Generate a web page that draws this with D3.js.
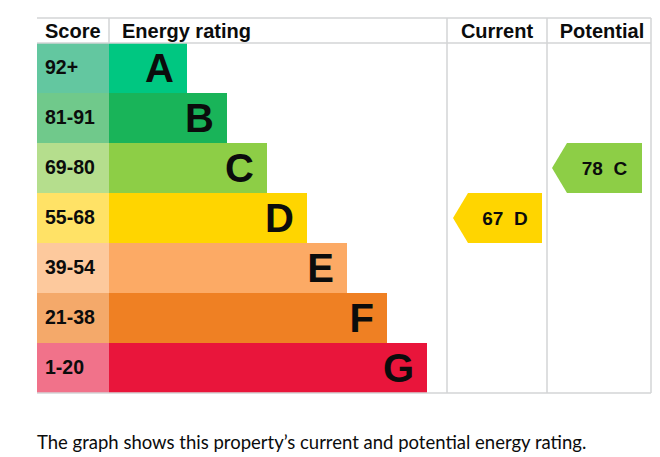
<!DOCTYPE html>
<meta charset="utf-8">
<style>
    body { margin: 0; background: #fff; }
    .grid { stroke: #d3d5d6; stroke-width: 1.5px; }
    .hdr { font-family: "Liberation Sans", Arial, sans-serif; font-weight: bold; font-size: 20px; fill: #0b0c0c; }
    .score { font-family: "Liberation Sans", Arial, sans-serif; font-weight: bold; font-size: 19.5px; fill: #0b0c0c; }
    .letter { font-family: "Liberation Sans", Arial, sans-serif; font-weight: bold; font-size: 40px; fill: #0b0c0c; }
    .arrowtxt { font-family: "Liberation Sans", Arial, sans-serif; font-weight: bold; font-size: 19px; fill: #0b0c0c; }
    .caption { font-family: Lato, "Noto Sans", sans-serif; font-size: 18.5px; fill: #0b0c0c; }
</style>
<body>
<script src="https://cdn.jsdelivr.net/npm/d3@7"></script>
<script>
    var ratings = ["A", "B", "C", "D", "E", "F", "G"]
    var scoreLabels = ["92+", "81-91", "69-80", "55-68", "39-54", "21-38", "1-20"]
    var scoreMins = [92, 81, 69, 55, 39, 21, 1]
    var barColors = ["#00c781", "#19b459", "#8dce46", "#ffd500", "#fcaa65", "#ef8023", "#e9153b"]
    var scoreColors = ["#63c7a0", "#70c98b", "#b5de8d", "#ffe266", "#fdc99d", "#f4a96a", "#f1728a"]
    var current = 67
    var potential = 78
    var caption = "The graph shows this property\u2019s current and potential energy rating."

    var width = 660, height = 457
    var svg = d3.select("body").append("svg")
        .attr("width", width)
        .attr("height", height)

    var left = 37, scoreRight = 109, curLeft = 447, potLeft = 547, right = 651
    var tableTop = 18, headBottom = 43, bottom = 393

    var y = d3.scaleBand().domain(ratings).range([headBottom, bottom])
    // bar end grows one step per band
    var barEnd = d3.scaleLinear().domain([0, ratings.length - 1]).range([187, 427])

    function band(score) {
        return ratings[scoreMins.findIndex(function(m) { return score >= m })]
    }

    // score cells
    svg.selectAll("rect.scorecell")
        .data(ratings)
        .enter().append("rect")
        .attr("x", left)
        .attr("y", function(d) { return y(d) })
        .attr("width", scoreRight - left)
        .attr("height", y.bandwidth())
        .attr("fill", function(d, i) { return scoreColors[i] })

    svg.selectAll("text.score")
        .data(scoreLabels)
        .enter().append("text")
        .attr("class", "score")
        .attr("x", left + 8)
        .attr("y", function(d, i) { return y(ratings[i]) + y.bandwidth() / 2 - 1 })
        .attr("dy", "0.36em")
        .text(function(d) { return d })

    // bars
    svg.selectAll("rect.bar")
        .data(ratings)
        .enter().append("rect")
        .attr("x", scoreRight)
        .attr("y", function(d) { return y(d) })
        .attr("width", function(d, i) { return barEnd(i) - scoreRight })
        .attr("height", y.bandwidth())
        .attr("fill", function(d, i) { return barColors[i] })

    svg.selectAll("text.letter")
        .data(ratings)
        .enter().append("text")
        .attr("class", "letter")
        .attr("x", function(d, i) { return barEnd(i) - 13 })
        .attr("y", function(d) { return y(d) + y.bandwidth() / 2 })
        .attr("dy", "0.36em")
        .attr("text-anchor", "end")
        .text(function(d) { return d })

    // grid
    var hlines = [tableTop, headBottom, bottom]
    svg.selectAll("line.h")
        .data(hlines)
        .enter().append("line")
        .attr("class", "grid")
        .attr("x1", left).attr("x2", right)
        .attr("y1", function(d) { return d }).attr("y2", function(d) { return d })
    svg.append("line").attr("class", "grid")
        .attr("x1", scoreRight).attr("x2", scoreRight).attr("y1", tableTop).attr("y2", headBottom)
    svg.selectAll("line.v")
        .data([curLeft, potLeft, right])
        .enter().append("line")
        .attr("class", "grid")
        .attr("x1", function(d) { return d }).attr("x2", function(d) { return d })
        .attr("y1", tableTop).attr("y2", bottom)

    // headers
    var heads = [
        {t: "Score", x: left + 8, a: "start"},
        {t: "Energy rating", x: scoreRight + 13, a: "start"},
        {t: "Current", x: (curLeft + potLeft) / 2, a: "middle"},
        {t: "Potential", x: (potLeft + right) / 2 + 3, a: "middle"}
    ]
    svg.selectAll("text.hdr")
        .data(heads)
        .enter().append("text")
        .attr("class", "hdr")
        .attr("x", function(d) { return d.x })
        .attr("y", (tableTop + headBottom) / 2)
        .attr("dy", "0.36em")
        .attr("text-anchor", function(d) { return d.a })
        .text(function(d) { return d.t })

    // arrows
    var arrows = [
        {v: current, x0: curLeft + 6, x1: curLeft + 95},
        {v: potential, x0: potLeft + 5, x1: potLeft + 95}
    ]
    arrows.forEach(function(a) {
        var r = band(a.v)
        var i = ratings.indexOf(r)
        var y0 = y(r), y1 = y(r) + y.bandwidth(), ym = (y0 + y1) / 2
        var g = svg.append("g")
        g.append("path")
            .attr("d", d3.line()([[a.x0, ym], [a.x0 + 15, y0], [a.x1, y0], [a.x1, y1], [a.x0 + 15, y1]]) + "Z")
            .attr("fill", barColors[i])
        g.append("text")
            .attr("class", "arrowtxt")
            .attr("x", (a.x0 + 15 + a.x1) / 2)
            .attr("y", ym)
            .attr("dy", "0.36em")
            .attr("text-anchor", "middle")
            .attr("xml:space", "preserve")
            .text(a.v + "  " + r)
    })

    svg.append("text")
        .attr("class", "caption")
        .attr("x", left)
        .attr("y", 449)
        .text(caption)
</script>
</body>
